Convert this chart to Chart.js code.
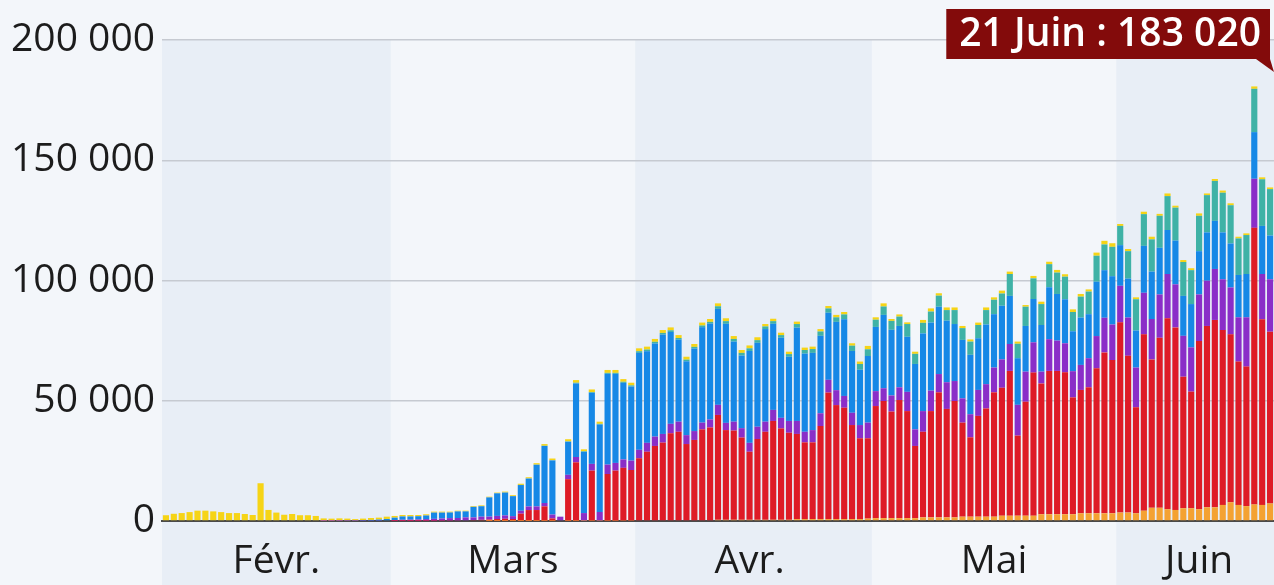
<!DOCTYPE html>
<html lang="fr">
<head>
<meta charset="utf-8">
<title>Nouveaux cas quotidiens</title>
<script src="https://cdn.jsdelivr.net/npm/chart.js@4.4.1/dist/chart.umd.min.js"></script>
<style>
  html, body { margin: 0; padding: 0; background: #f3f6fa; }
  canvas { display: block; }
</style>
</head>
<body>
<canvas id="chart" width="1274" height="585"></canvas>
<script>
// months shown on the x axis, and how many daily bars each one has
const monthLabels = ['Févr.', 'Mars', 'Avr.', 'Mai', 'Juin'];
const monthLengths = [29, 31, 30, 31, 20];
const monthLabelDay = [14, 15, 14, 15, 10];
const peakLabel = '21 Juin : 183 020';

const yTicks = [0, 50000, 100000, 150000, 200000];

// daily new cases, bottom to top of each stack
const orange = [
  0,0,0,0,0,0,0,0,0,0,0,0,0,0,0,0,0,0,0,0,0,0,0,0,0,0,0,0,0,
  0,0,0,0,0,0,0,0,0,0,0,0,20,20,30,30,50,50,60,80,80,0,100,100,100,150,150,150,150,200,200,
  300,300,300,300,300,300,300,300,300,300,500,500,500,500,500,500,500,500,500,500,800,800,800,800,800,800,800,800,800,1000,
  1200,1200,1200,1200,1200,1200,1500,1500,1500,1500,1500,1800,1800,1800,1800,1800,2200,2200,2200,2200,2200,2800,2800,2800,2800,2800,3200,3200,3200,3200,3200,
  3500,3500,3200,4300,5500,5500,4900,4600,5300,5300,4900,5700,5700,6700,7800,6700,6200,6900,6700,7300
];
const red = [
  0,0,0,0,0,0,0,0,0,0,0,0,0,0,0,0,0,0,0,0,0,0,0,0,0,0,0,0,0,
  20,30,40,50,80,100,150,200,250,300,400,500,600,800,900,800,3000,4500,4500,6000,1000,0,17300,24300,0,20800,0,19400,20800,21900,21000,
  25800,28500,30900,32300,36200,36800,31700,33400,37800,38600,43600,37300,37100,34200,28300,33600,36600,41100,38000,36200,35400,31900,31900,38700,52600,47400,46300,39100,33600,33400,
  46600,48700,44300,49100,44500,30000,35600,44200,52000,45100,48400,39100,33000,41900,45000,51700,53200,60200,33300,47400,59500,54400,59600,59600,59000,48600,51300,52400,60300,66900,63700,
  79100,65200,44100,73300,61700,70700,79400,75900,54700,48500,69900,75400,77900,72700,69800,59600,58000,115000,77200,71400
];
const purple = [
  0,0,0,0,0,0,0,0,0,0,0,0,0,0,0,0,0,0,0,0,30,30,50,100,100,150,200,200,300,
  400,500,550,600,700,800,900,1000,1000,1200,1100,1300,1200,1300,1400,1200,1200,1500,1500,1400,1600,1800,1800,2200,3200,2800,3600,3900,3200,3500,3900,
  3500,3700,3900,3600,3900,4200,3700,3700,2800,3300,4200,3000,3700,3900,3700,5100,4200,4600,4400,4900,5400,4400,5100,5300,5300,6200,4900,5100,5500,6500,
  6200,5300,6700,5300,8000,6900,8600,8500,7600,11100,8300,10100,9600,10800,10100,10300,11800,11200,12800,12500,12600,4900,13200,12600,12100,10900,10400,12100,13400,14400,14800,
  15200,15900,16500,17300,16800,18000,18400,17900,17000,18400,19400,18800,21200,21100,19500,18400,20500,20400,18800,21800
];
const blue = [
  0,0,0,0,0,0,0,0,0,0,0,0,0,0,0,0,0,0,0,0,0,0,50,100,100,200,250,400,550,
  980,1370,1310,1350,1520,2600,2450,2350,2750,2500,4400,4350,8000,9400,9500,8300,10700,11600,17300,23700,22500,0,13750,30600,25450,29550,36350,37750,37050,31850,30800,
  40300,38100,38700,41300,38200,34100,30700,34300,39700,39900,39900,41200,33300,30200,38200,34900,38500,35800,33300,26700,38800,32500,32100,32200,27900,28400,31900,25700,23000,27700,
  26700,30500,27300,25500,22900,27200,32300,28300,28000,25600,23700,24300,24700,21500,24800,22200,22300,20000,19400,19000,18000,19400,21600,19400,18300,16600,19700,18300,22600,19800,20100,
  16900,16200,15400,19500,19700,19400,18300,18200,16600,18000,18000,20100,20000,19500,18300,17600,18000,19400,20000,18200
];
const teal = [
  0,0,0,0,0,0,0,0,0,0,0,0,0,0,0,0,0,0,0,0,0,0,0,0,0,0,0,0,0,
  0,0,0,0,0,0,0,0,0,0,0,0,0,0,0,0,50,60,80,100,100,0,150,300,250,300,300,400,400,450,500,
  700,700,700,700,700,700,700,700,700,700,1100,1100,1100,1100,1100,1100,1100,1100,1100,1100,1500,1500,1600,1800,1800,1900,2000,2200,2400,2800,
  3000,3500,3700,3900,5300,4200,4400,4600,4600,4400,5800,4900,5500,5500,6000,6000,5100,9100,6000,8000,8600,8700,9600,8900,9400,8000,8700,9400,10800,10700,12200,
  8000,11400,13000,13200,13400,13300,14100,13700,14100,14100,14700,15500,16600,16500,15900,15200,16200,18000,19400,19300
];
const yellow = [
  2400,3000,3300,3700,4300,4300,4000,3700,3300,3300,2900,2500,15700,4600,3500,2600,2900,2400,2400,2100,1050,950,1000,800,600,650,800,800,950,
  700,600,600,500,500,400,400,350,300,300,300,350,300,300,400,400,500,500,600,700,700,0,900,1100,800,1100,900,1200,1200,1100,1100,
  1200,1200,1200,1200,1200,1200,1200,1200,1200,1200,1200,1200,1200,1200,1200,1200,1000,1000,1000,1000,1000,1000,1000,1000,1000,1000,1000,1000,1000,1400,
  1000,1300,800,900,700,900,1200,1300,1000,1100,1100,900,900,1000,1100,1000,1200,1000,900,700,1000,1000,1000,1100,1000,1100,1100,900,1300,1500,1500,
  800,900,800,1000,1100,800,1100,800,800,800,1000,700,800,900,800,700,700,1000,800,700
];

// one category per day, and the month tick placed mid-month
const days = [];
const monthTicks = {};
const monthStarts = [];
monthLabels.forEach((m, mi) => {
  monthStarts.push(days.length);
  monthTicks[days.length + monthLabelDay[mi]] = m;
  for (let d = 1; d <= monthLengths[mi]; d++) days.push(d + ' ' + m);
});

const fmt = v => String(v).replace(/\B(?=(\d{3})+(?!\d))/g, ' ');
const FONT = '"Open Sans", "Noto Sans", sans-serif';

const bandsPlugin = {
  id: 'bands',
  beforeDraw(chart) {
    const { ctx, chartArea, scales: { x } } = chart;
    ctx.save();
    ctx.fillStyle = '#f3f6fa';
    ctx.fillRect(0, 0, chart.width, chart.height);
    const half = (x.getPixelForValue(1) - x.getPixelForValue(0)) / 2;
    ctx.fillStyle = '#e8eef6';
    monthStarts.forEach((s, mi) => {
      if (mi % 2) return;
      const x0 = x.getPixelForValue(s) - half;
      const x1 = Math.min(x.getPixelForValue(s + monthLengths[mi] - 1) + half, chart.width);
      ctx.fillRect(x0, chartArea.top, x1 - x0, chart.height - chartArea.top);
    });
    ctx.restore();
  }
};

const peakPlugin = {
  id: 'peak',
  afterDraw(chart) {
    const { ctx, scales: { y } } = chart;
    ctx.save();
    ctx.font = '600 39px ' + FONT;
    const w = ctx.measureText(peakLabel).width + 22;
    const right = chart.width - 4;
    const top = y.getPixelForValue(200000) - 31;
    const h = 50;
    ctx.fillStyle = '#830b0b';
    ctx.fillRect(right - w, top, w, h);
    ctx.beginPath();
    ctx.moveTo(right - 14, top + h);
    ctx.lineTo(right, top + h);
    ctx.lineTo(right + 4, top + h + 13);
    ctx.closePath();
    ctx.fill();
    ctx.fillStyle = '#ffffff';
    ctx.textBaseline = 'middle';
    ctx.textAlign = 'center';
    ctx.fillText(peakLabel, right - w / 2 + 2, top + h / 2 + 1);
    ctx.restore();
  }
};

const series = [
  { data: orange, color: '#f4a232' },
  { data: red, color: '#de1b26' },
  { data: purple, color: '#8a2ec8' },
  { data: blue, color: '#1688e6' },
  { data: teal, color: '#3fb2a6' },
  { data: yellow, color: '#f6d416' }
];

new Chart(document.getElementById('chart'), {
  type: 'bar',
  data: {
    labels: days,
    datasets: series.map(s => ({
      data: s.data,
      backgroundColor: s.color,
      borderWidth: 0,
      barPercentage: 0.78,
      categoryPercentage: 1
    }))
  },
  options: {
    responsive: false,
    animation: false,
    layout: { padding: { top: 40, right: 0, left: 0, bottom: 0 } },
    plugins: { legend: { display: false }, tooltip: { enabled: false } },
    scales: {
      x: {
        stacked: true,
        grid: { display: false },
        border: { color: '#4a4a4a', width: 2 },
        ticks: {
          autoSkip: false,
          maxRotation: 0,
          padding: 9,
          color: '#1c1c1c',
          font: { family: FONT, size: 39 },
          callback: (v, i) => monthTicks[i] || ''
        },
        afterFit: s => { s.height = 64; s.paddingLeft = 0; s.paddingRight = 0; }
      },
      y: {
        stacked: true,
        min: 0,
        max: 200000,
        afterBuildTicks: s => { s.ticks = yTicks.map(v => ({ value: v })); },
        grid: { color: '#c6cad1', lineWidth: 1.5, drawTicks: false },
        border: { display: false },
        ticks: {
          padding: 7,
          color: '#1c1c1c',
          font: { family: FONT, size: 39 },
          callback: v => fmt(v)
        },
        afterFit: s => { s.width = 162; }
      }
    }
  },
  plugins: [bandsPlugin, peakPlugin]
});
</script>
</body>
</html>
